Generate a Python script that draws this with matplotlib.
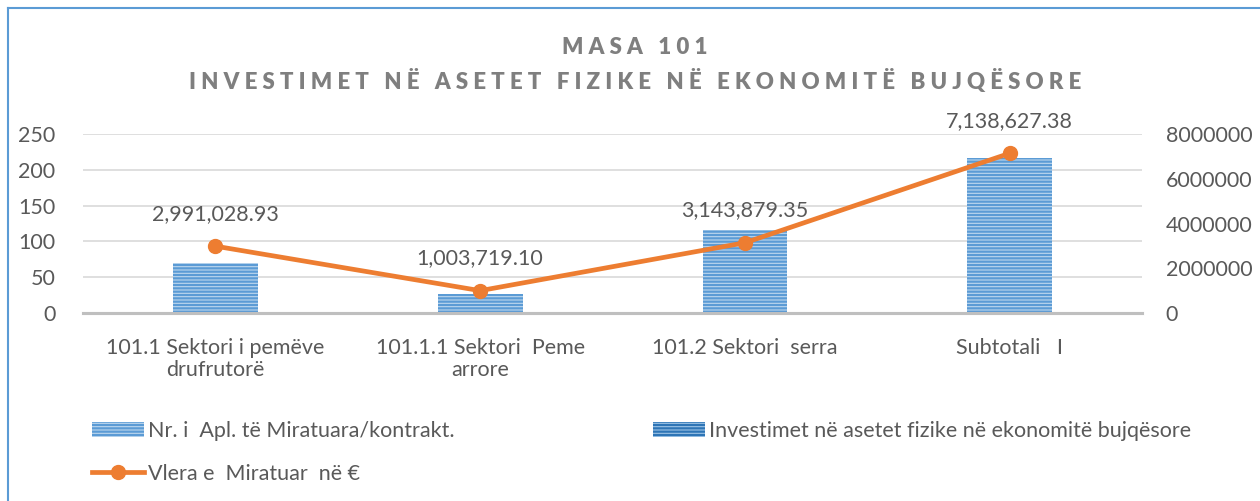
import matplotlib
matplotlib.use("Agg")
import matplotlib.pyplot as plt
from matplotlib.patches import Patch
from matplotlib.lines import Line2D

plt.rcParams['font.family'] = ['Lato', 'DejaVu Sans']
plt.rcParams['hatch.linewidth'] = 1.6

kategorite = ["101.1 Sektori i pemëve\ndrufrutorë", "101.1.1 Sektori  Peme\narrore",
              "101.2 Sektori  serra", "Subtotali   I"]
nr_aplikimeve = [70, 26, 116, 217]
vlera_miratuar = [2991028.93, 1003719.10, 3143879.35, 7138627.38]
etiketat_vleres = ["2,991,028.93", "1,003,719.10", "3,143,879.35", "7,138,627.38"]

ngjyra_tekst = "#595959"
blu = "#5B9BD5"
portokalli = "#ED7D31"
madhesia = 15.5

fig = plt.figure(figsize=(12.6, 5.01), dpi=100)
ax = fig.add_axes([0.0659, 0.375, 0.8405, 0.3575])
ax2 = ax.twinx()

x = list(range(len(kategorite)))
ax.bar(x, nr_aplikimeve, width=0.32, color="#BDD7EE", edgecolor=blu,
       hatch="-----", linewidth=0, zorder=2)
ax.set_ylim(0, 250)
ax.set_yticks(range(0, 251, 50))
ax.set_xlim(-0.5, len(kategorite) - 0.5)
ax.set_xticks(x)
ax.set_xticklabels(kategorite, fontsize=madhesia, color=ngjyra_tekst, linespacing=1.1)
ax.grid(axis="y", color="#D9D9D9", linewidth=1.2, zorder=0)
ax.set_axisbelow(True)

ax2.plot(x, vlera_miratuar, color=portokalli, linewidth=3.4, marker="o",
         markersize=10, zorder=3)
ax2.set_ylim(0, 8000000)
ax2.set_yticks(range(0, 8000001, 2000000))
ax2.set_yticklabels([str(v) for v in range(0, 8000001, 2000000)])
for xi, v, t in zip(x, vlera_miratuar, etiketat_vleres):
    ax2.annotate(t, (xi, v), xytext=(0, 16), textcoords="offset points",
                 ha="center", va="bottom", fontsize=madhesia, color=ngjyra_tekst)

for a in (ax, ax2):
    for s in ("top", "left", "right"):
        a.spines[s].set_visible(False)
    a.spines["bottom"].set_color("#BFBFBF")
    a.spines["bottom"].set_linewidth(2.2)
    a.tick_params(length=0, labelsize=madhesia, labelcolor=ngjyra_tekst)
ax.tick_params(axis="y", pad=20)
ax.tick_params(axis="x", pad=18)
ax2.tick_params(axis="y", pad=17)

fig.text(0.504, 1 - 47 / 501, "M A S A   1 0 1", ha="center", va="center",
         fontsize=16, fontweight="heavy", color="#7F7F7F")
fig.text(0.504, 1 - 81 / 501,
         "I N V E S T I M E T   N Ë   A S E T E T   F I Z I K E   N Ë   "
         "E K O N O M I T Ë   B U J Q Ë S O R E",
         ha="center", va="center", fontsize=16, fontweight="heavy", color="#7F7F7F")

h1 = Patch(facecolor="#BDD7EE", edgecolor=blu, hatch="-----", linewidth=0)
h2 = Patch(facecolor="#9DC3E6", edgecolor="#2E75B6", hatch="-----", linewidth=0)
h3 = Line2D([], [], color=portokalli, linewidth=3.4, marker="o", markersize=10)
leg = fig.legend([h1, h3, h2],
                 ["Nr. i  Apl. të Miratuara/kontrakt.", "Vlera e  Miratuar  në €",
                  "Investimet në asetet fizike në ekonomitë bujqësore"],
                 ncol=2, loc="upper left", bbox_to_anchor=(0.058, 1 - 402 / 501),
                 frameon=False, fontsize=madhesia, labelcolor=ngjyra_tekst,
                 columnspacing=9.2, handlelength=2.4, handletextpad=0.2,
                 labelspacing=1.05)

fig.add_artist(Line2D([8 / 1260, 8 / 1260], [0, 1 - 8 / 501],
                      transform=fig.transFigure, color=blu, linewidth=1.5))
fig.add_artist(Line2D([8 / 1260, 1], [1 - 8 / 501, 1 - 8 / 501],
                      transform=fig.transFigure, color=blu, linewidth=1.5))

fig.savefig("out.png", dpi=100)
